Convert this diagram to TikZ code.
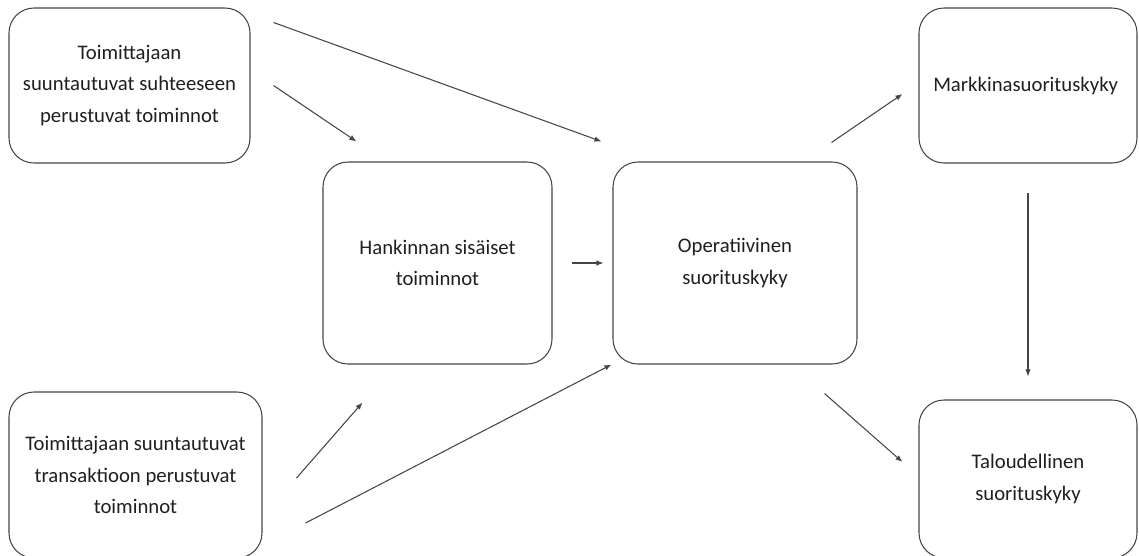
\documentclass[tikz,border=0pt]{standalone}
\usepackage{fontspec}
\setmainfont{Carlito}
\usepackage{tikz}
\usetikzlibrary{arrows.meta,positioning}
\definecolor{linegray}{HTML}{454545}
\definecolor{textgray}{HTML}{1F1F1F}

\begin{document}
\begin{tikzpicture}[node distance=3cm,on grid,>={Latex[length=1.4mm,width=1.1mm]},
    box/.style={draw=linegray,line width=0.6pt,rounded corners=0.5cm,align=center,
      inner sep=0pt,text=textgray,font=\fontsize{11.8}{18}\selectfont},
    every edge/.style={draw=linegray,line width=0.6pt}]
      \useasboundingbox (0,0) rectangle (22.78,-11.1);

      \node[box,minimum width=4.82cm,minimum height=3.1cm] (rel) at (2.59,-1.71) {
        Toimittajaan\\
        suuntautuvat suhteeseen\\
        perustuvat toiminnot
      };
      \node[box,minimum width=4.58cm,minimum height=4.04cm] (hank) [below right=3.55cm and 6.16cm of rel] {
        Hankinnan sisäiset\\
        toiminnot
      };
      \node[box,minimum width=4.88cm,minimum height=4.04cm] (oper) [right=5.95cm of hank] {
        Operatiivinen\\
        suorituskyky
      };
      \node[box,minimum width=4.36cm,minimum height=3.1cm] (mark) [above right=3.55cm and 5.86cm of oper] {
        Markkinasuorituskyky
      };
      % the two lower boxes run past the bottom edge
      \node[box,minimum width=4.36cm,minimum height=3.16cm] (talo) [below=7.87cm of mark] {
        Taloudellinen\\
        suorituskyky
      };
      \node[box,minimum width=5.06cm,minimum height=3.32cm] (trans) [below right=7.79cm and 0.12cm of rel] {
        Toimittajaan suuntautuvat\\
        transaktioon perustuvat\\
        toiminnot
      };

      \path[->] ([shift={(0.46,0)}]rel.east) edge ([shift={(0.68,0.4)}]hank.north west);
      \path[->] ([shift={(0.46,-0.3)}]rel.north east) edge ([shift={(-0.22,0.4)}]oper.north west);
      \path[->] ([shift={(0.68,-0.06)}]trans.east) edge ([shift={(0.8,-0.76)}]hank.south west);
      \path[->] ([shift={(0.86,-0.96)}]trans.east) edge ([shift={(-0.02,0)}]oper.south west);
      \path[->] ([shift={(0.38,0)}]hank.east) edge ([shift={(-0.18,0)}]oper.west);
      \path[->] ([shift={(-0.52,0.38)}]oper.north east) edge ([shift={(-0.32,-0.17)}]mark.west);
      \path[->] ([shift={(-0.66,-0.58)}]oper.south east) edge ([shift={(-0.32,0.34)}]talo.west);
      \path[->] ([shift={(0,-0.58)}]mark.south) edge ([shift={(0,0.46)}]talo.north);
    \end{tikzpicture}
\end{document}
